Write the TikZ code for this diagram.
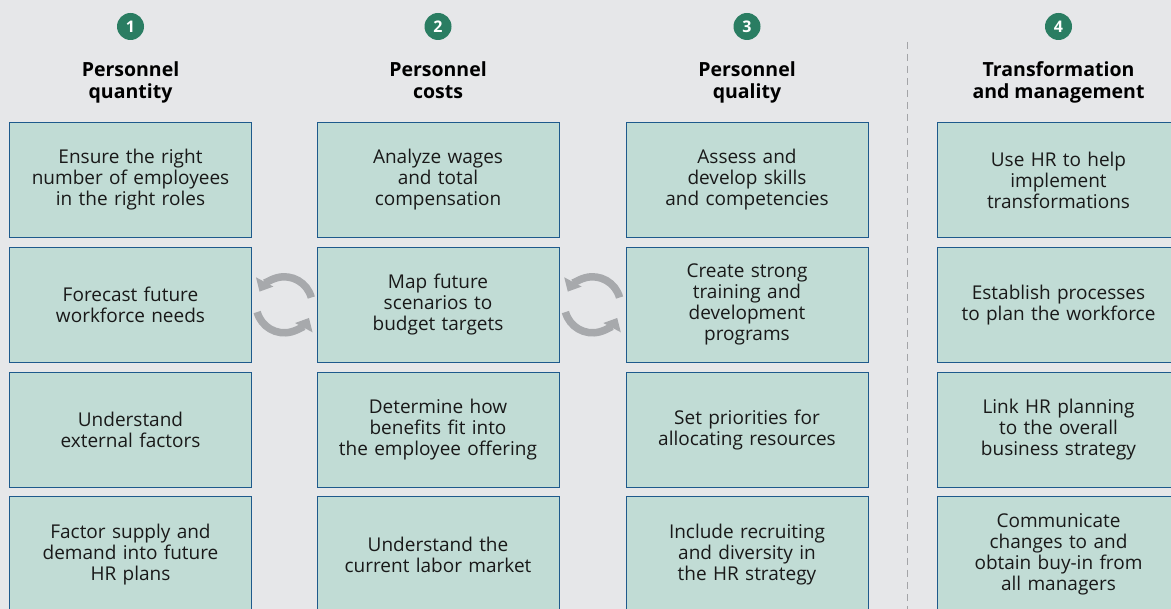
\documentclass[tikz,border=0pt]{standalone}
\usepackage{fontspec}
\setmainfont{Open Sans}
\usetikzlibrary{arrows.meta,calc}

\definecolor{pagegray}{HTML}{E6E7E9}
\definecolor{boxfill}{HTML}{C1DCD5}
\definecolor{boxline}{HTML}{1E5A8C}
\definecolor{numgreen}{HTML}{2A7D62}
\definecolor{turngray}{HTML}{A7A9AC}
\definecolor{dashgray}{HTML}{A3A4A7}

\tikzset{
  task/.style={draw=boxline, line width=1pt, fill=boxfill,
    minimum width=242pt, minimum height=115pt, text width=236pt,
    align=center, inner sep=0pt, text=black!90,
    font=\fontsize{19}{21}\selectfont},
  num/.style={circle, fill=numgreen, minimum size=27pt, inner sep=0pt,
    text=white, font=\bfseries\fontsize{16}{16}\selectfont},
  head/.style={align=center, anchor=north, inner sep=0pt,
    font=\bfseries\fontsize{19.5}{22}\selectfont},
  turn/.style={draw=turngray, line width=7.5pt,
    -{Triangle[width=19pt,length=11pt]}},
}

\begin{document}
\begin{tikzpicture}[x=1pt,y=1pt]
  \fill[pagegray] (0,0) rectangle (1171,-609);
  \useasboundingbox (0,0) rectangle (1171,-609);
  \clip (0,0) rectangle (1171,-609);

  % numbers and headings
  \node[num] (n1) at (130.5,-26.5) {1};
  \node[num] (n2) at (438,-26.5) {2};
  \node[num] (n3) at (747,-26.5) {3};
  \node[num] (n4) at (1058.5,-26.5) {4};
  \node[head] (h1) at (130.5,-61) {Personnel\\quantity};
  \node[head] (h2) at (438,-61) {Personnel\\costs};
  \node[head] (h3) at (747,-61) {Personnel\\quality};
  \node[head] (h4) at (1058.5,-61) {Transformation\\and management};

  % the four columns of boxes
  \foreach \txt [count=\r] in {
      {Ensure the right\\number of employees\\in the right roles},
      {Forecast future\\workforce needs},
      {Understand\\external factors},
      {Factor supply and\\demand into future\\HR plans}}
    \node[task] (qty\r) at (130.5,{-180-124.8*(\r-1)}) {\txt};
  \foreach \txt [count=\r] in {
      {Analyze wages\\and total\\compensation},
      {Map future\\scenarios to\\budget targets},
      {Determine how\\benefits fit into\\the employee offering},
      {Understand the\\current labor market}}
    \node[task] (cost\r) at (438,{-180-124.8*(\r-1)}) {\txt};
  \foreach \txt [count=\r] in {
      {Assess and\\develop skills\\and competencies},
      {Create strong\\training and\\development\\programs},
      {Set priorities for\\allocating resources},
      {Include recruiting\\and diversity in\\the HR strategy}}
    \node[task] (qual\r) at (747,{-180-124.8*(\r-1)}) {\txt};
  \foreach \txt [count=\r] in {
      {Use HR to help\\implement\\transformations},
      {Establish processes\\to plan the workforce},
      {Link HR planning\\to the overall\\business strategy},
      {Communicate\\changes to and\\obtain buy-in from\\all managers}}
    \node[task] (trf\r) at (1058.5,{-180-124.8*(\r-1)}) {\txt};

  % separator before column 4
  \draw[dashgray, line width=1pt, dash pattern=on 7pt off 5pt] (907,-42) -- (907,-609);

  % turning arrows between columns
  \coordinate (turnA) at ($(qty2.east)!0.5!(cost2.west)$);
  \coordinate (turnB) at ($(cost2.east)!0.5!(qual2.west)$);
  \foreach \c in {turnA,turnB} {
    \draw[turn] ($(\c)+(15:28)$) arc[start angle=15,end angle=152,radius=28];
    \draw[turn] ($(\c)+(195:28)$) arc[start angle=195,end angle=332,radius=28];
  }
\end{tikzpicture}
\end{document}
